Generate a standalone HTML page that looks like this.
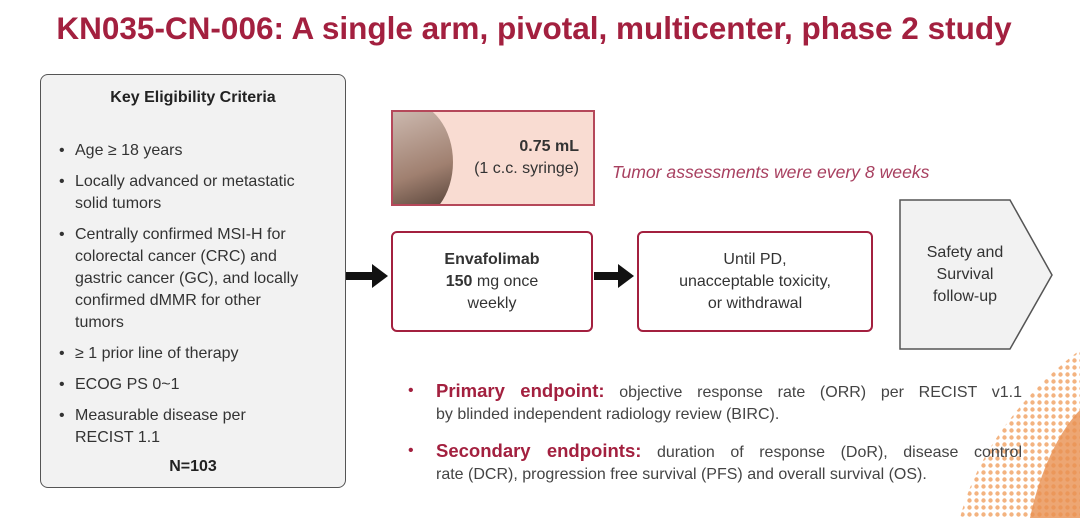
<!DOCTYPE html>
<html><head><meta charset="utf-8"><style>
body{margin:0;width:1080px;height:518px;background:#fff;font-family:"Liberation Sans",sans-serif;position:relative;overflow:hidden;color:#333}
.a{position:absolute}
h1{position:absolute;left:0;width:1068px;top:10px;margin:0;text-align:center;font-size:31.5px;color:#a3203f;font-weight:bold;white-space:nowrap}
.lb{left:40px;top:74px;width:304px;height:412px;background:#f2f2f2;border:1.5px solid #555;border-radius:8px}
.lb ul{margin:0;padding:0;list-style:none;position:absolute;left:18px;top:65px;width:270px;font-size:16px;line-height:22px;color:#333}
.lb li{position:relative;padding-left:16px;margin-bottom:9px;white-space:nowrap}
.lb li:before{content:"•";position:absolute;left:0}
.box{position:absolute;border:2px solid #a3203f;border-radius:6px;background:#fff;text-align:center;font-size:16px;line-height:22px;color:#333;box-sizing:border-box;display:flex;align-items:center;justify-content:center}
.ep{position:absolute;left:436px;width:586px;font-size:16px;line-height:22px;color:#444}
.ep .l1{display:block;text-align:justify;text-align-last:justify;white-space:nowrap}
.ep b{color:#a3203f;font-size:18.5px}
.dot{position:absolute;left:-28px;color:#a3203f}
</style></head><body>
<h1>KN035-CN-006: A single arm, pivotal, multicenter, phase 2 study</h1>
<div class="a lb">
<div class="a" style="left:0;width:304px;top:14px;text-align:center;font-weight:bold;font-size:16px;color:#222">Key Eligibility Criteria</div>
<ul>
<li>Age ≥ 18 years</li>
<li>Locally advanced or metastatic<br>solid tumors</li>
<li>Centrally confirmed MSI-H for<br>colorectal cancer (CRC) and<br>gastric cancer (GC), and locally<br>confirmed dMMR for other<br>tumors</li>
<li>≥ 1 prior line of therapy</li>
<li>ECOG PS 0~1</li>
<li>Measurable disease per<br>RECIST 1.1</li>
</ul>
<div class="a" style="left:0;width:304px;top:383px;text-align:center;font-weight:bold;font-size:16px;color:#222">N=103</div>
</div>
<div class="a" style="left:391px;top:110px;width:200px;height:92px;background:#f9dcd2;border:2px solid #b5485a;overflow:hidden">
<div class="a" style="left:-30px;top:-10px;width:90px;height:120px;border-radius:0 60% 60% 0;background:linear-gradient(160deg,#d8c8c0,#a08070 60%,#403028)"></div>
<div class="a" style="right:14px;top:24px;text-align:right;font-size:16px;line-height:22px;color:#333"><b>0.75 mL</b><br>(1 c.c. syringe)</div>
</div>
<div class="a" style="left:612px;top:162px;font-size:17.6px;font-style:italic;color:#a84060;white-space:nowrap">Tumor assessments were every 8 weeks</div>
<svg class="a" style="left:0;top:0" width="1080" height="518">
<rect x="346" y="272" width="28" height="8" fill="#111"/><polygon points="372,264 388,276 372,288" fill="#111"/>
<rect x="594" y="272" width="26" height="8" fill="#111"/><polygon points="618,264 634,276 618,288" fill="#111"/>
<polygon points="900,200 1010,200 1052,275 1010,349 900,349" fill="#f2f2f2" stroke="#555" stroke-width="1.5"/>
<defs><pattern id="p" width="7" height="7" patternUnits="userSpaceOnUse"><circle cx="3.5" cy="3.5" r="2.2" fill="#f0a060"/></pattern></defs>
<path d="M960,518 C980,440 1040,380 1080,350 L1080,518 Z" fill="url(#p)" opacity="0.8"/>
<path d="M1030,518 C1040,470 1060,430 1080,410 L1080,518 Z" fill="#e89050" opacity="0.8"/>
</svg>
<div class="box" style="left:391px;top:231px;width:202px;height:101px"><div><b>Envafolimab</b><br><b>150</b> mg once<br>weekly</div></div>
<div class="box" style="left:637px;top:231px;width:236px;height:101px"><div>Until PD,<br>unacceptable toxicity,<br>or withdrawal</div></div>
<div class="a" style="left:900px;top:242px;width:130px;text-align:center;font-size:16px;line-height:22px;color:#333">Safety and<br>Survival<br>follow-up</div>
<div class="ep" style="top:380px"><span class="dot">•</span><span class="l1"><b>Primary endpoint:</b> objective response rate (ORR) per RECIST v1.1</span>by blinded independent radiology review (BIRC).</div>
<div class="ep" style="top:440px"><span class="dot">•</span><span class="l1"><b>Secondary endpoints:</b> duration of response (DoR), disease control</span>rate (DCR), progression free survival (PFS) and overall survival (OS).</div>
</body></html>
